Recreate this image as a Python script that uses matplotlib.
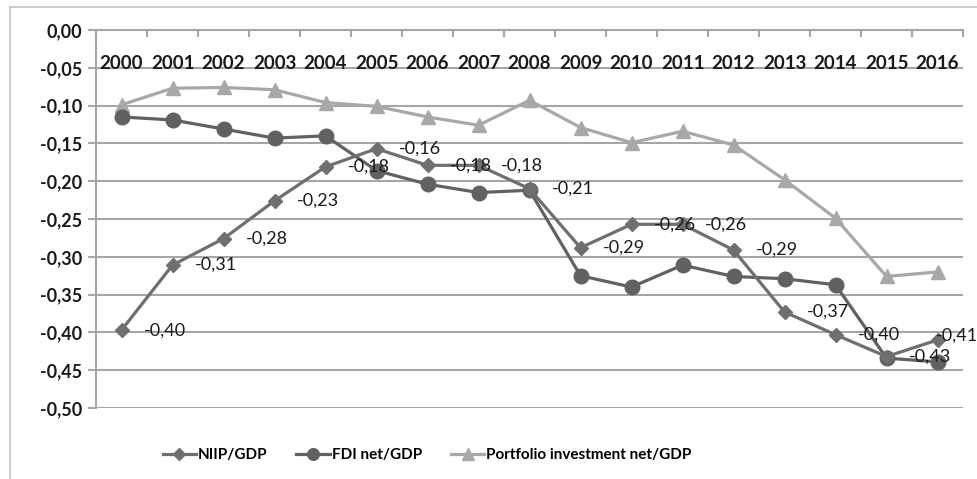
import matplotlib
matplotlib.use("Agg")
import matplotlib.pyplot as plt
from matplotlib.lines import Line2D

years = ["2000", "2001", "2002", "2003", "2004", "2005", "2006", "2007", "2008",
         "2009", "2010", "2011", "2012", "2013", "2014", "2015", "2016"]

niip_gdp = [-0.397, -0.311, -0.276, -0.226, -0.181, -0.157, -0.179, -0.179, -0.210,
            -0.288, -0.257, -0.257, -0.291, -0.373, -0.403, -0.432, -0.410]
fdi_net_gdp = [-0.115, -0.119, -0.131, -0.143, -0.140, -0.186, -0.204, -0.215, -0.212,
               -0.325, -0.340, -0.311, -0.326, -0.329, -0.337, -0.434, -0.439]
portfolio_net_gdp = [-0.099, -0.077, -0.076, -0.079, -0.096, -0.101, -0.115, -0.126, -0.093,
                     -0.129, -0.149, -0.134, -0.152, -0.198, -0.249, -0.326, -0.320]

series_labels = ["NIIP/GDP", "FDI net/GDP", "Portfolio investment net/GDP"]
y_ticks = [0.0, -0.05, -0.10, -0.15, -0.20, -0.25, -0.30, -0.35, -0.40, -0.45, -0.50]

plt.rcParams["font.family"] = ["Lato", "DejaVu Sans"]

fig = plt.figure(figsize=(9.77, 4.79), dpi=100)
ax = fig.add_axes([96 / 977, 71 / 479, 867 / 977, 378 / 479])

grid_c = "#a6a6a6"
x = list(range(len(years)))

ax.plot(x, niip_gdp, color="#6f6f6f", lw=2.3, marker="D", ms=7.5,
        label=series_labels[0], zorder=4)
ax.plot(x, fdi_net_gdp, color="#616161", lw=2.3, marker="o", ms=10.5,
        label=series_labels[1], zorder=3)
ax.plot(x, portfolio_net_gdp, color="#a8a8a8", lw=2.3, marker="^", ms=10,
        label=series_labels[2], zorder=2)

# value labels for the NIIP series; the last one is pulled in to stay inside
last = len(x) - 1
for xi, v in zip(x, niip_gdp):
    dx, dy = (22, 0) if xi < last else (-2, 4)
    ax.annotate(f"{v:.2f}".replace(".", ","), (xi, v), xytext=(dx, dy),
                textcoords="offset pixels", ha="left", va="center",
                fontsize=13, color="#1a1a1a", zorder=6, annotation_clip=False)

ax.set_xlim(-0.5, len(years) - 0.5)
ax.set_ylim(-0.5, 0.0)
ax.set_yticks(y_ticks)
ax.set_yticklabels([f"{t:.2f}".replace(".", ",") for t in y_ticks],
                   fontsize=13, fontweight="bold", color="#1a1a1a")
ax.yaxis.grid(True, color=grid_c, lw=1.5)
ax.set_axisbelow(True)
ax.tick_params(axis="y", length=6, width=1.5, color=grid_c, pad=4)

# category axis drawn along the zero line
ax.set_xticks([])
ax.set_xticks([i - 0.5 for i in range(len(years) + 1)], minor=True)
ax.tick_params(axis="x", which="minor", top=True, bottom=False, direction="in",
               length=5, width=1.5, color=grid_c)
for xi, yr in zip(x, years):
    ax.text(xi, -0.044, yr, ha="center", va="center", fontsize=13.5,
            fontweight="bold", color="#1a1a1a", zorder=5)

for side in ["right", "bottom"]:
    ax.spines[side].set_visible(False)
for side in ["left", "top"]:
    ax.spines[side].set_color(grid_c)
    ax.spines[side].set_linewidth(1.5)

# chart area border
fig.add_artist(Line2D([10 / 977, 1.0], [1 - 7 / 479, 1 - 7 / 479],
                      transform=fig.transFigure, color="#c4c4c4", lw=1.2))
fig.add_artist(Line2D([10 / 977, 10 / 977], [0.0, 1 - 7 / 479],
                      transform=fig.transFigure, color="#c4c4c4", lw=1.2))

fig.legend(loc="center", bbox_to_anchor=(0.437, 0.05), ncol=3, frameon=False,
           prop={"size": 11, "weight": "bold"},
           handlelength=2.2, columnspacing=1.9, handletextpad=0.1,
           markerscale=0.8)

fig.savefig("out.png", dpi=100, facecolor="white")
